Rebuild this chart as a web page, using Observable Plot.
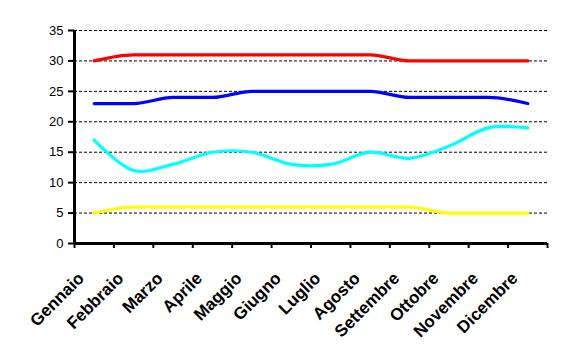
<!DOCTYPE html>
<html>
<head>
<meta charset="utf-8">
<script src="https://cdn.jsdelivr.net/npm/d3@7"></script>
<script src="https://cdn.jsdelivr.net/npm/@observablehq/plot@0.6"></script>
<style>
  html, body { margin: 0; padding: 0; background: #fff; }
  #chart svg { display: block; }
</style>
</head>
<body>
<div id="chart"></div>
<script>
const months = ["Gennaio","Febbraio","Marzo","Aprile","Maggio","Giugno","Luglio","Agosto","Settembre","Ottobre","Novembre","Dicembre"];
const redValues    = [30, 31, 31, 31, 31, 31, 31, 31, 30, 30, 30, 30];
const blueValues   = [23, 23, 24, 24, 25, 25, 25, 25, 24, 24, 24, 23];
const cyanValues   = [17, 12, 13, 15, 15, 13, 13, 15, 14, 16, 19, 19];
const yellowValues = [5, 6, 6, 6, 6, 6, 6, 6, 6, 5, 5, 5];
const yTicks = [0, 5, 10, 15, 20, 25, 30, 35];

const seriesList = [
  {name: "rosso", values: redValues, color: "#ff0000", curve: "monotone-x"},
  {name: "blu", values: blueValues, color: "#0000ff", curve: "monotone-x"},
  {name: "ciano", values: cyanValues, color: "#00ffff", curve: "catmull-rom"},
  {name: "giallo", values: yellowValues, color: "#ffff00", curve: "monotone-x"}
];
const boundaries = d3.range(months.length + 1).map(i => i - 0.5);

const lineMarks = seriesList.map(s =>
  Plot.line(s.values.map((v, i) => ({i, value: v})), {
    x: "i", y: "value", stroke: s.color, strokeWidth: 3.2, curve: s.curve
  })
);

const chart = Plot.plot({
  width: 563,
  height: 362,
  marginLeft: 74,
  marginRight: 16,
  marginTop: 30,
  marginBottom: 119,
  style: {fontFamily: "Arial, 'Liberation Sans', sans-serif", fontSize: "13px", color: "#000", background: "#fff"},
  x: {type: "linear", domain: [-0.5, months.length - 0.5], axis: null},
  y: {domain: [0, 35], axis: null},
  marks: [
    Plot.gridY(yTicks.filter(t => t > 0), {stroke: "#000", strokeOpacity: 1, strokeWidth: 1, strokeDasharray: "3,2"}),
    Plot.axisY({ticks: yTicks, tickSize: 6, tickPadding: 5, strokeWidth: 2, fontSize: 13, anchor: "left", label: null}),
    Plot.axisX({ticks: boundaries, tickSize: 5, tickFormat: () => "", strokeWidth: 2, anchor: "bottom", label: null}),
    ...lineMarks,
    Plot.ruleX([-0.5], {stroke: "#000", strokeWidth: 3}),
    Plot.ruleY([0], {stroke: "#000", strokeWidth: 3}),
    Plot.text(months, {
      x: (d, i) => i, frameAnchor: "bottom",
      text: d => d, rotate: -45, textAnchor: "end", lineAnchor: "middle",
      dx: -13, dy: 32, fontWeight: "bold", fontSize: 17, fill: "#000"
    })
  ]
});
document.getElementById("chart").appendChild(chart);
</script>
</body>
</html>
